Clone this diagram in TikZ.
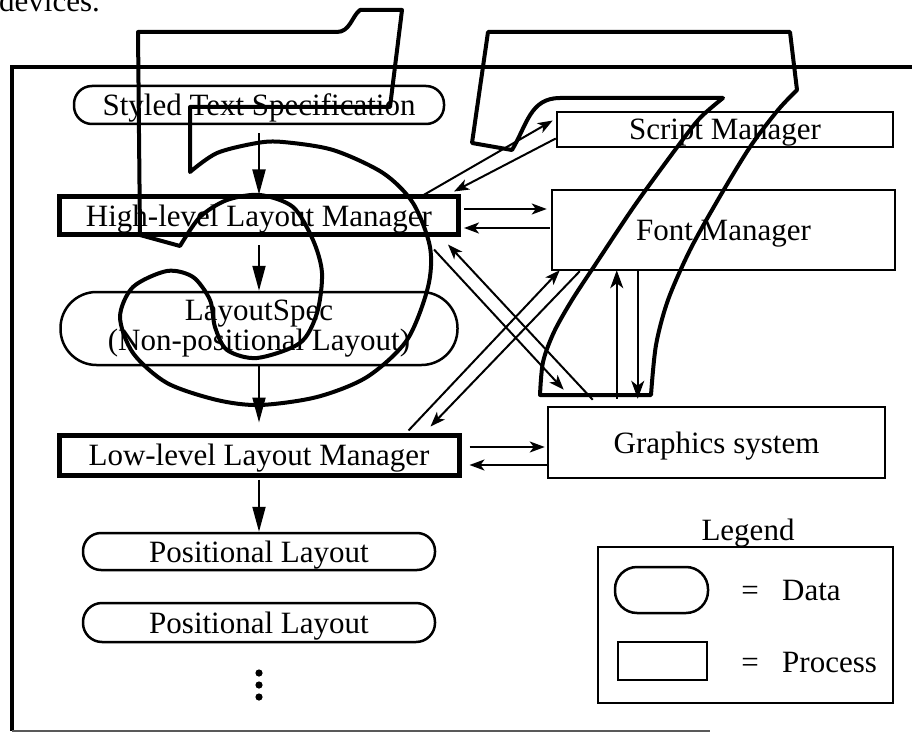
\documentclass[tikz,border=0pt]{standalone}
\usepackage{fontspec}
\setmainfont{Liberation Serif}
\usetikzlibrary{arrows.meta,calc}
\begin{document}
\begin{tikzpicture}[x=1pt,y=-1pt,
  lbl/.style={font=\fontsize{31}{30}\selectfont},
  one/.style={text height=21pt,text depth=0pt},
  databox/.style={draw,line width=2.5pt,rounded corners=#1,inner sep=0pt,lbl,align=center},
  procbox/.style={draw,line width=2.5pt,inner sep=0pt,lbl,one},
  heavybox/.style={draw,line width=5pt,inner sep=0pt,lbl,one},
  flow/.style={line width=2pt,-{Triangle[length=25pt,width=13pt]}},
  link/.style={line width=2pt,-{Stealth[length=15pt,width=11pt,inset=4pt]}},
  vlink/.style={line width=1.5pt,-{Stealth[length=18pt,width=13pt,inset=5pt]}},
  glyph/.style={line width=4pt,line join=round}]
\useasboundingbox (0,0) rectangle (912,735);

% running text above the figure
\node[lbl,anchor=base west,inner sep=0pt] (devices) at (-1,12) {devices.};

% outer frame
\draw[line width=4pt] (916,67) -- (12,67) -- (12,731);
\draw[line width=2.5pt,black!65] (12,731) -- (710,731);

% left column: data and processes
\node[databox=18pt,one,minimum width=370pt,minimum height=38pt] (sts) at (259,105) {Styled Text Specification};
\node[heavybox,minimum width=399pt,minimum height=38pt] (hl) at (259,216) {High-level Layout Manager};
\node[databox=36pt,minimum width=397pt,minimum height=73pt] (ls) at (259,328.5) {LayoutSpec\\(Non-positional Layout)};
\node[heavybox,minimum width=400pt,minimum height=40pt] (ll) at (259,455) {Low-level Layout Manager};
\node[databox=18pt,one,minimum width=352pt,minimum height=37pt] (pl1) at (259,551.5) {Positional Layout};
\node[databox=19pt,one,minimum width=352pt,minimum height=39pt] (pl2) at (259,622.5) {Positional Layout};
\foreach \y in {673,685,697} \fill (259,\y) circle (3.6pt);

% right column: services
\node[procbox,minimum width=336pt,minimum height=35pt] (sm) at (725,129.5) {Script Manager};
\node[procbox,minimum width=343pt,minimum height=80pt] (fm) at (723.5,230) {Font Manager};
\node[procbox,minimum width=337pt,minimum height=71pt] (gs) at (716.5,442.5) {Graphics system};

% legend
\node[lbl,one] (legtitle) at (748,530) {Legend};
\node[draw,line width=2.5pt,minimum width=295pt,minimum height=156pt,inner sep=0pt] (legbox) at (745.5,625) {};
\node[databox=22pt,minimum width=93pt,minimum height=46pt] (legdata) at (661.5,590) {};
\node[procbox,minimum width=89pt,minimum height=38pt] (legproc) at (662.5,661) {};
\node[lbl,one,inner sep=0pt] (eqdata) at (750,590) {=};
\node[lbl,one,inner sep=0pt,anchor=west] (txtdata) at (782,590) {Data};
\node[lbl,one,inner sep=0pt] (eqproc) at (750,662) {=};
\node[lbl,one,inner sep=0pt,anchor=west] (txtproc) at (782,662) {Process};

% main pipeline
\draw[flow,shorten <=8pt] (sts.south) -- (hl.north);
\draw[flow,shorten <=8pt] (hl.south) -- (ls.north);
\draw[flow,shorten >=10pt] (ls.south) -- (ll.north);
\draw[flow,shorten <=2pt] (ll.south) -- (pl1.north);

% exchanges with the services
\draw[link,shorten <=3pt,shorten >=4pt] ([yshift=7pt]hl.east) -- ([yshift=7pt]hl.east -| fm.west);
\draw[link,shorten <=1pt,shorten >=3pt] ([yshift=-12pt]hl.east -| fm.west) -- ([yshift=-12pt]hl.east);
\draw[link,shorten <=8pt,shorten >=2pt] ([yshift=8pt]ll.east) -- ([yshift=8pt]ll.east -| gs.west);
\draw[link,shorten >=8pt] ([yshift=-10pt]ll.east -| gs.west) -- ([yshift=-10pt]ll.east);
\draw[link] ($(hl.north east)+(-40,2)$) -- ($(sm.west)+(-3,-9)$);
\draw[link] ($(sm.west)+(0,9)$) -- ($(hl.north east)+(-7,-3)$);
\draw[link] ($(hl.south east)+(-27,12)$) -- ($(gs.north west)+(17,-16)$);
\draw[link] ($(gs.north west)+(46,-6)$) -- ($(hl.south east)+(-13,7)$);
\draw[link] ($(ll.north east)+(-53,-2)$) -- ($(fm.south west)+(9,-1)$);
\draw[link] ($(fm.south west)+(29,0)$) -- ($(ll.north east)+(-31,-6)$);
\draw[vlink] ($(gs.north west)+(70,-7)$) -- ($(fm.south west)+(66,-1)$);
\draw[vlink] ($(fm.south west)+(87,-1)$) -- ($(gs.north west)+(91,-7)$);

% large outlined numeral five
\draw[glyph] (138,32) -- (337,32) .. controls (350,32) and (352,16) .. (360,10) -- (402,10) -- (390,107) -- (190,107) -- (190,172)
  -- plot[smooth] coordinates {(190,172) (217,153) (257,143) (283,142) (333,150) (383,173) (413,203) (430,247) (428,287) (407,340) (367,377) (317,397) (260,405) (217,400) (167,383) (133,353) (120,317) (133,287) (167,271) (193,277) (210,300) (215,327) (227,350) (257,358) (300,343) (317,313) (322,273) (313,240) (293,207) (260,195) (227,200) (200,217) (180,246)}
  -- (140,235) -- cycle;

% large outlined numeral seven
\draw[glyph] (488,32) -- (790,32) -- (797,90)
  -- plot[smooth] coordinates {(797,90) (778,110) (750,147) (719,198) (690,250) (668,300) (656,345) (651,395)}
  -- (540,395)
  -- plot[smooth] coordinates {(540,395) (543,362) (554,332) (572,300) (597,262) (635,205) (678,146) (700,118) (723,98)}
  -- (560,98) .. controls (530,98) and (527,125) .. (512,150) -- (472,143) -- cycle;
\end{tikzpicture}
\end{document}
